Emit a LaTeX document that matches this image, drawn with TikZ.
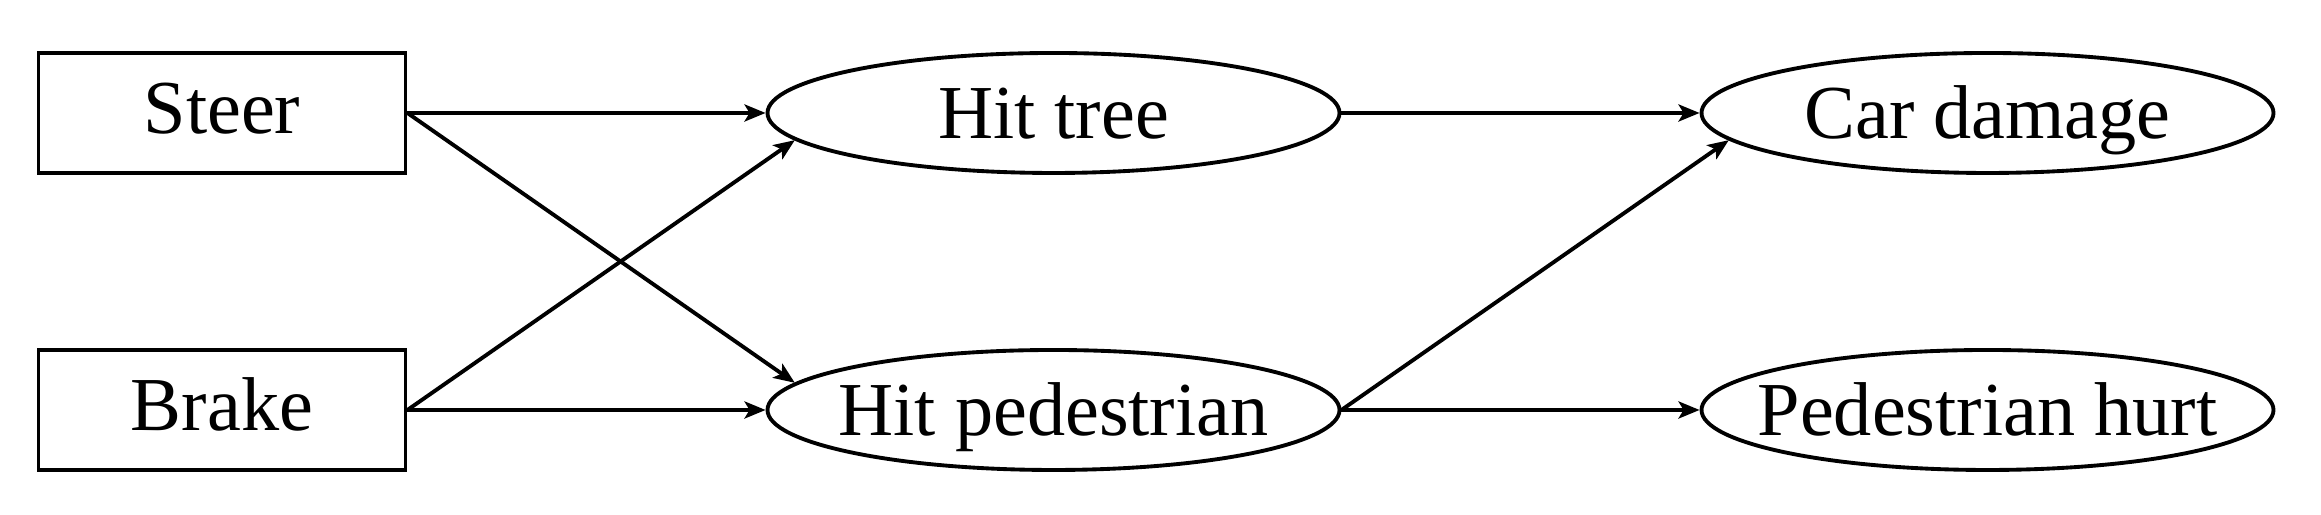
\documentclass[tikz,border=0pt]{standalone}
\usepackage{fontspec}
\setmainfont{Liberation Serif}
\usepackage{tikz}
\usetikzlibrary{arrows.meta,shapes.geometric}

\begin{document}
\begin{tikzpicture}[scale=1,
  act/.style={draw,line width=1.1pt,minimum width=3.67cm,minimum height=1.2cm,inner sep=0pt,text height=0.42cm,text depth=0pt},
  event/.style={draw,ellipse,line width=1.1pt,minimum width=5.72cm,minimum height=1.2cm,inner sep=0pt,text height=0.52cm,text depth=0pt},
  cause/.style={line width=1.1pt,-{Stealth[length=2.1mm,width=1.7mm,inset=0.5mm]}},
  font=\fontsize{21.7}{26}\selectfont]
\useasboundingbox (0,0) rectangle (23.21,5.15);
\node[act] (steer) at (2.22,4.02) {Steer};
\node[act] (brake) at (2.22,1.05) {Brake};
\node[event] (tree) at (10.535,4.02) {\makebox[0pt]{Hit tree}};
\node[event] (ped) at (10.535,1.05) {\makebox[0pt]{Hit pedestrian}};
\node[event] (damage) at (19.875,4.02) {\makebox[0pt]{Car damage}};
\node[event] (hurt) at (19.875,1.05) {\makebox[0pt]{Pedestrian hurt}};
\draw[cause] (steer.east)--(tree.west);
\draw[cause] (steer.east)--(ped.174);
\draw[cause] (brake.east)--(tree.186);
\draw[cause] (brake.east)--(ped.west);
\draw[cause] (tree.east)--(damage.west);
\draw[cause] (ped.east)--(damage.186);
\draw[cause] (ped.east)--(hurt.west);
\end{tikzpicture}
\end{document}
